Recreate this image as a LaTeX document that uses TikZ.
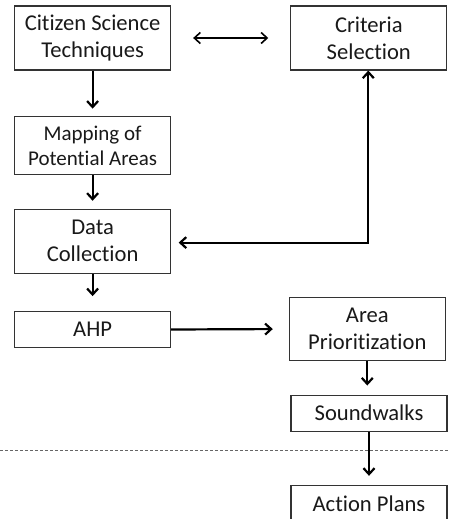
\documentclass[tikz,border=0pt]{standalone}
\usepackage{fontspec}
\setmainfont[Ligatures=NoCommon]{Carlito}
\usetikzlibrary{arrows.meta}
\begin{document}
\begin{tikzpicture}[x=1pt,y=-1pt,
  box/.style={draw=black!80, line width=1.1pt, fill=white, inner sep=0pt, align=center,
    minimum width=156pt, font=\fontsize{22.6}{27}\selectfont, text=black!90},
  flow/.style={line width=2.2pt, -{Straight Barb[length=6pt,width=11pt,line width=2.2pt]}},
  both/.style={line width=1.6pt, {Straight Barb[length=6pt,width=11pt,line width=1.6pt]}-{Straight Barb[length=6pt,width=11pt,line width=1.6pt]}}
]
\useasboundingbox (0,0) rectangle (449,519);
\fill[white] (0,0) rectangle (449,519);
\node[box, minimum height=64pt] (cs) at (92.6,38) {Citizen Science\\Techniques};
\node[box, minimum height=64pt] (crit) at (368.8,38) {Criteria\\Selection};
\node[box, minimum height=58pt, font=\fontsize{21}{25}\selectfont] (map) at (92.6,145.7) {Mapping of\\Potential Areas};
\node[box, minimum height=64pt] (dc) at (92.6,241.3) {Data\\Collection};
\node[box, minimum height=35.6pt] (ahp) at (92.6,329.5) {AHP};
\node[box, minimum height=63.4pt] (ap) at (367.3,329) {Area\\Prioritization};
\node[box, minimum height=36.3pt] (sw) at (369,413.2) {Soundwalks};
\node[box, minimum height=36.3pt] (acp) at (369,503.5) {Action Plans};
\draw[black!60, line width=1pt, dash pattern=on 3pt off 2pt] (0,450.7) -- (449,450.7);
\draw[both, shorten <=22pt, shorten >=22pt] (cs.east) -- (crit.west);
\draw[flow, shorten >=7.5pt] (cs.south) -- (map.north);
\draw[flow, shorten >=8pt] (map.south) -- (dc.north);
\draw[flow, shorten >=15pt] (dc.south) -- (ahp.north);
\draw[flow, shorten >=16pt] (ahp.east) -- (ap.west);
\draw[flow, shorten >=9pt] (ap.south) -- (ap.south |- sw.north);
\draw[flow, shorten >=9pt] (sw.south) -- (sw.south |- acp.north);
\draw[line width=2.2pt, {Straight Barb[length=6pt,width=11pt,line width=2.2pt]}-{Straight Barb[length=6pt,width=11pt,line width=2.2pt]}, shorten <=7.5pt] ([yshift=-1.3pt]dc.east) -| ([xshift=-0.5pt]crit.south);
\end{tikzpicture}
\end{document}
